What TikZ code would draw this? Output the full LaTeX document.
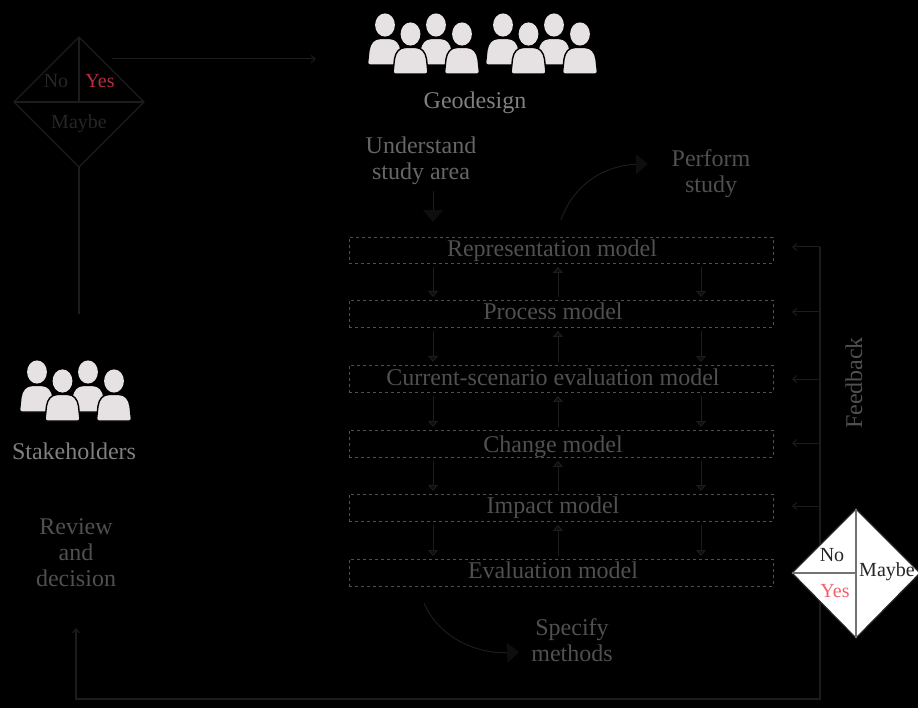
\documentclass[tikz,border=0pt]{standalone}
\usepackage{fontspec}
\setmainfont{Liberation Serif}
\usetikzlibrary{arrows.meta,calc}
\definecolor{ln}{HTML}{1C1C1C}
\definecolor{hd}{HTML}{0E0E0E}
\definecolor{ic}{HTML}{E6E1E3}
\definecolor{tA}{HTML}{808080}
\definecolor{tB}{HTML}{666666}
\definecolor{tC}{HTML}{505050}
\definecolor{dk}{HTML}{262626}
\definecolor{ry}{HTML}{B82E40}
\definecolor{ro}{HTML}{F4606A}
\tikzset{
  lbl/.style={font=\fontsize{24}{26}\selectfont,align=center,inner sep=0pt},
  dlbl/.style={font=\fontsize{20}{24}\selectfont,inner sep=0pt},
  model/.style={draw=tC,dash pattern=on 3pt off 3pt,line width=.9pt,minimum width=424pt,inner sep=0pt,anchor=north west},
  mtext/.style={font=\fontsize{24}{26}\selectfont,inner sep=0pt,text=tC,anchor=base},
  thin arr/.style={draw=ln,line width=1pt,-{Straight Barb[length=4pt,width=7pt]}},
  small arr/.style={draw=ln,line width=1pt,shorten <=3pt,shorten >=3pt,-{Triangle[length=6pt,width=10pt,color=ln,fill=hd]}},
  big arr/.style={draw=ln,line width=1pt,-{Triangle[length=12pt,width=20pt,color=hd,fill=hd]}},
  wire/.style={draw=ln,line width=1.1pt}
}
\newcommand{\oneperson}[3]{%
  \begin{scope}[shift={(#1,#2)},xscale=#3]
  \fill[ic,draw=black,line width=1.4pt]
    (-15.5,40) .. controls (-17,40) and (-17.5,39) .. (-17.3,37)
    -- (-16,25) .. controls (-15,18) and (-11,13.5) .. (-5,13.5)
    -- (5,13.5) .. controls (11,13.5) and (15,18) .. (16,25)
    -- (17.3,37) .. controls (17.5,39) and (17,40) .. (15.5,40) -- cycle;
  \fill[ic] (0,0) ellipse [x radius=9.9,y radius=11.6];
  \end{scope}
}
\newcommand{\fourpeople}[2]{%
  \begin{scope}[shift={(#1,#2)}]
    \oneperson{16}{25}{1}
    \oneperson{67}{25}{1}
    \oneperson{41.5}{34}{1}
    \oneperson{93}{34}{1}
  \end{scope}
}
\begin{document}
\begin{tikzpicture}[x=1pt,y=-1pt]
\path[use as bounding box,fill=black] (0,0) rectangle (918,708);
% people
\fourpeople{369}{0}
\fourpeople{487}{0}
\fourpeople{21}{347}
% labels
\node[lbl,text=tA] (geo) at (475,103) {Geodesign};
\node[lbl,text=tA] (stake) at (74,451) {Stakeholders};
\node[lbl,text=tB] (understand) at (421,161) {Understand\\study area};
\node[lbl,text=tC] (perform) at (711,174) {Perform\\study};
\node[lbl,text=tC] (review) at (76,553) {Review\\and\\decision};
\node[lbl,text=tC] (specify) at (572,640) {Specify\\methods};
\node[lbl,text=tC,rotate=90] (feedback) at (854,383) {Feedback};
% model boxes
\node[model,minimum height=26pt] (r1) at (349,237) {};
\node[model,minimum height=27pt] (r2) at (349,300) {};
\node[model,minimum height=27pt] (r3) at (349,365) {};
\node[model,minimum height=27pt] (r4) at (349,430) {};
\node[model,minimum height=27pt] (r5) at (349,494) {};
\node[model,minimum height=27pt] (r6) at (349,559) {};
\node[mtext] (t1) at (552,257) {Representation model};
\node[mtext] (t2) at (553,320) {Process model};
\node[mtext] (t3) at (553,385) {Current-scenario evaluation model};
\node[mtext] (t4) at (553,452) {Change model};
\node[mtext] (t5) at (553,513) {Impact model};
\node[mtext] (t6) at (553,578) {Evaluation model};
% columns
\coordinate (cl) at (433,0);
\coordinate (cm) at (558,0);
\coordinate (cr) at (701,0);
\foreach \a/\b in {r1/r2,r2/r3,r3/r4,r4/r5,r5/r6}{
  \draw[small arr] (\a.south -| cl) -- (\b.north -| cl);
  \draw[small arr] (\b.north -| cm) -- (\a.south -| cm);
  \draw[small arr] (\a.south -| cr) -- (\b.north -| cr);
}
% big arrows
\coordinate (u0) at (433,191);
\coordinate (u1) at (433,222);
\draw[big arr] (u0) -- (u1);
\coordinate (p0) at (561,220);
\coordinate (p1) at (648,164);
\draw[big arr] (p0) .. controls (575,180) and (610,165) .. (p1);
\coordinate (s0) at (424,603);
\coordinate (s1) at (519,652);
\draw[big arr] (s0) .. controls (440,640) and (480,654) .. (s1);
% upper decision diamond
\coordinate (dT) at (79,37);
\coordinate (dL) at (14,102);
\coordinate (dR) at (144,102);
\coordinate (dB) at (79,167);
\coordinate (dC) at (79,102);
\draw[ln,line width=1.2pt,line join=miter] (dT) -- (dR) -- (dB) -- (dL) -- cycle;
\draw[ln,line width=1.2pt] (dT) -- (dC) (dL) -- (dR);
\node[dlbl,text=dk] (dno) at (56,81) {No};
\node[dlbl,text=ry] (dyes) at (100,81) {Yes};
\node[dlbl,text=dk] (dmay) at (79,124) {Maybe};
\coordinate (dEnd) at (79,314);
\draw[wire] (dB) -- (dEnd);
\coordinate (g0) at (112,59);
\coordinate (g1) at (316,59);
\draw[thin arr] (g0) -- (g1);
% feedback lines
\coordinate (fT) at (820,247);
\coordinate (fB) at (820,699);
\coordinate (fL) at (76,699);
\coordinate (fA) at (76,628);
\draw[wire,-{Straight Barb[length=4pt,width=7pt]}] (fT) -- (fB) -- (fL) -- (fA);
\foreach \y in {247,312,379,443,506}{
  \coordinate (b) at (792,\y);
  \draw[thin arr] (fT |- b) -- (b);
}
% lower decision diamond
\coordinate (eT) at (856,509);
\coordinate (eL) at (792,573);
\coordinate (eR) at (920,573);
\coordinate (eB) at (856,638);
\coordinate (eC) at (856,573);
\fill[white,draw=dk,line width=1.2pt] (eT) -- (eR) -- (eB) -- (eL) -- cycle;
\draw[black!55,line width=1.2pt] (eT) -- (eB) (eL) -- (eC);
\node[dlbl,text=dk] (eno) at (832,555) {No};
\node[dlbl,text=ro] (eyes) at (835,591) {Yes};
\node[dlbl,text=dk] (emay) at (887,572) {Maybe};
\end{tikzpicture}
\end{document}
